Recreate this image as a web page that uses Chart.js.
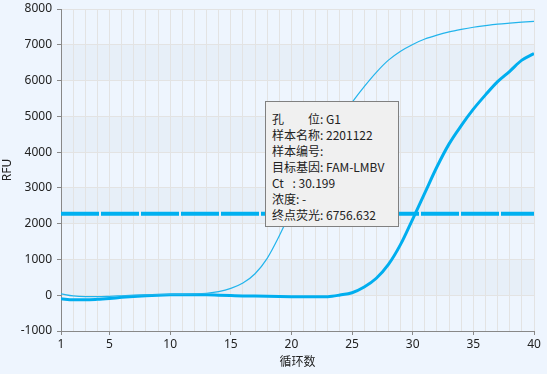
<!DOCTYPE html>
<html>
<head>
<meta charset="utf-8">
<script src="https://cdn.jsdelivr.net/npm/chart.js@4/dist/chart.umd.min.js"></script>
<style>
  html, body { margin: 0; padding: 0; background: #eef5fe; }
  #wrap { position: relative; width: 547px; height: 374px; }
  #tip {
    position: absolute; left: 265px; top: 101px; width: 132px; height: 124px;
    background: #f0f0f0; border: 1px solid #808080;
    font: 12px "Noto Sans CJK SC", "Noto Sans", sans-serif; color: #222;
  }
  #tip div { position: absolute; left: 6px; line-height: 16px; white-space: pre; }
</style>
</head>
<body>
<div id="wrap">
  <canvas id="c" width="547" height="374"></canvas>
  <div id="tip"></div>
</div>
<script>
// Data
const CYCLES = [1, 2, 3, 4, 5, 6, 7, 8, 9, 10, 11, 12, 13, 14, 15, 16, 17, 18, 19, 20,
                21, 22, 23, 24, 25, 26, 27, 28, 29, 30, 31, 32, 33, 34, 35, 36, 37, 38, 39, 40];

// thin curve (other well)
const CURVE_A = [40, -20, -40, -40, -30, -15, 0, 10, 15, 20, 25, 35, 55, 100, 190, 340, 600, 1030, 1660, 2380,
                 3080, 3740, 4350, 4900, 5390, 5830, 6230, 6570, 6820, 7010, 7160, 7270, 7360, 7430, 7490, 7535, 7575, 7605, 7632, 7655];

// thick curve (G1, FAM-LMBV)
const CURVE_G1 = [-100, -130, -130, -115, -90, -60, -35, -15, 0, 10, 15, 15, 10, 0, -10, -20, -25, -30, -35, -40,
                  -45, -45, -40, 5, 70, 230, 475, 860, 1420, 2130, 2860, 3590, 4230, 4740, 5200, 5600, 5970, 6260, 6570, 6757];

const THRESHOLD = 2280;
const X_LABELS = [1, 5, 10, 15, 20, 25, 30, 35, 40];

const TIP_LINES = [
    '孔\u3000\u3000位: G1',
    '样本名称: 2201122',
    '样本编号:',
    '目标基因: FAM-LMBV',
    'Ct\u2002 : 30.199',
    '浓度: -',
    '终点荧光: 6756.632'
];

const FONT = '"Noto Sans", "Noto Sans CJK SC", sans-serif';

// alternating horizontal bands behind the grid
const bandPlugin = {
    id: 'bands',
    beforeDraw(chart) {
        const { ctx, chartArea, scales } = chart;
        const y = scales.y;
        ctx.save();
        ctx.fillStyle = '#eef5fe';
        ctx.fillRect(chartArea.left, chartArea.top, chartArea.right - chartArea.left, chartArea.bottom - chartArea.top);
        ctx.fillStyle = '#e7eff8';
        for (let v = 0; v < 8000; v += 2000) {
            const top = y.getPixelForValue(v + 1000);
            const bot = y.getPixelForValue(v);
            ctx.fillRect(chartArea.left, top, chartArea.right - chartArea.left, bot - top);
        }
        ctx.restore();
    }
};

const toPts = arr => arr.map((v, i) => ({ x: CYCLES[i], y: v }));

new Chart(document.getElementById('c'), {
    type: 'line',
    data: {
        datasets: [
            {
                data: [{ x: CYCLES[0], y: THRESHOLD }, { x: CYCLES[CYCLES.length - 1], y: THRESHOLD }],
                borderColor: '#00b0f0', borderWidth: 4, borderDash: [38, 2],
                pointRadius: 0, borderCapStyle: 'butt'
            },
            {
                data: toPts(CURVE_A),
                borderColor: '#22b4ec', borderWidth: 1.2,
                pointRadius: 0, cubicInterpolationMode: 'monotone'
            },
            {
                data: toPts(CURVE_G1),
                borderColor: '#00aeef', borderWidth: 3,
                pointRadius: 0, cubicInterpolationMode: 'monotone'
            }
        ]
    },
    options: {
        responsive: false,
        animation: false,
        events: [],
        layout: { padding: { top: 9, right: 13, left: 0, bottom: 0 } },
        plugins: { legend: { display: false }, tooltip: { enabled: false } },
        scales: {
            x: {
                type: 'linear', min: 1, max: 40,
                afterFit: s => { s.height = 43; s.paddingLeft = 0; s.paddingRight = 0; },
                afterBuildTicks: s => { s.ticks = CYCLES.map(v => ({ value: v })); },
                border: { color: '#888888', width: 1 },
                grid: {
                    color: '#e3e3e3', tickLength: 4,
                    tickColor: c => X_LABELS.includes(c.tick && c.tick.value) ? '#888888' : 'rgba(0,0,0,0)'
                },
                ticks: {
                    autoSkip: false, maxRotation: 0, padding: 2,
                    color: '#222', font: { family: FONT, size: 12 },
                    callback: v => X_LABELS.includes(v) ? String(v) : ''
                },
                title: {
                    display: true, text: '循环数', color: '#222', padding: { top: 0, bottom: 5 },
                    font: { family: '"Noto Sans CJK SC", sans-serif', size: 12 }
                }
            },
            y: {
                min: -1000, max: 8000,
                afterFit: s => { s.width = 61; s.paddingTop = 0; s.paddingBottom = 0; },
                border: { color: '#888888', width: 1 },
                grid: { color: '#e3e3e3', tickLength: 4, tickColor: '#888888' },
                ticks: {
                    stepSize: 1000, padding: 5,
                    color: '#222', font: { family: FONT, size: 12 },
                    callback: v => String(v)
                },
                title: {
                    display: true, text: 'RFU', color: '#222', padding: { top: 0, bottom: 0 },
                    font: { family: FONT, size: 12 }
                }
            }
        }
    },
    plugins: [bandPlugin]
});

const tip = document.getElementById('tip');
TIP_LINES.forEach((t, i) => {
    const d = document.createElement('div');
    d.textContent = t;
    d.style.top = (9 + i * 16) + 'px';
    tip.appendChild(d);
});
</script>
</body>
</html>
